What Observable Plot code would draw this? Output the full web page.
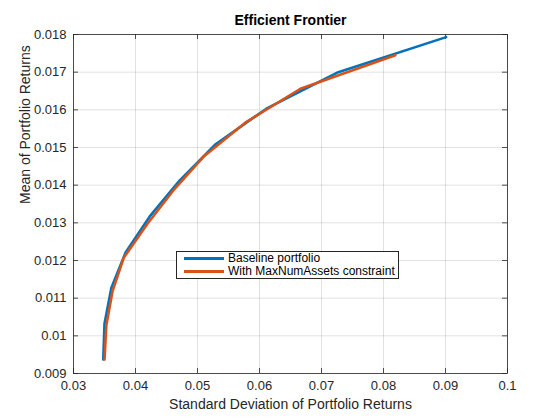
<!DOCTYPE html>
<html>
<head>
<meta charset="utf-8">
<script src="https://cdn.jsdelivr.net/npm/d3@7"></script>
<script src="https://cdn.jsdelivr.net/npm/@observablehq/plot@0.6"></script>
<style>
  body { margin: 0; background: #fff; }
  #wrap { position: relative; width: 560px; height: 420px; font-family: "Liberation Sans", Arial, Helvetica, sans-serif; }
  #legend { position: absolute; left: 176px; top: 251px; width: 221px; height: 26px; border: 1px solid #262626; background: #fff; font-size: 12px; color: #000; }
  .row { position: absolute; left: 7px; height: 13px; line-height: 13px; display: flex; align-items: center; white-space: nowrap; }
  .sw { flex: none; width: 40px; height: 0; border-top: 3px solid; margin-right: 4px; }
</style>
</head>
<body>
<div id="wrap"></div>
<script>
const title = "Efficient Frontier";
const xLabel = "Standard Deviation of Portfolio Returns";
const yLabel = "Mean of Portfolio Returns";
const seriesNames = ["Baseline portfolio", "With MaxNumAssets constraint"];
const seriesColors = ["#0072BD", "#D95319"];

const baselineRisk = [0.0348, 0.0350, 0.0361, 0.0384, 0.0423, 0.0471, 0.0528, 0.0611, 0.0727, 0.0901];
const baselineReturn = [0.00937, 0.01032, 0.01127, 0.01221, 0.01317, 0.01412, 0.01507, 0.01603, 0.01700, 0.01793];
const constrainedRisk = [0.0350, 0.0353, 0.0363, 0.0381, 0.0419, 0.0461, 0.0510, 0.0577, 0.0666, 0.0819];
const constrainedReturn = [0.00937, 0.01028, 0.01119, 0.01207, 0.01297, 0.01386, 0.01476, 0.01566, 0.01656, 0.01745];

const xTicks = [0.03, 0.04, 0.05, 0.06, 0.07, 0.08, 0.09, 0.1];
const yTicks = [0.009, 0.010, 0.011, 0.012, 0.013, 0.014, 0.015, 0.016, 0.017, 0.018];

const baseline = baselineRisk.map((s, i) => ({sd: s, mean: baselineReturn[i]}));
const constrained = constrainedRisk.map((s, i) => ({sd: s, mean: constrainedReturn[i]}));

const W = 560, H = 420, mL = 73, mR = 53, mT = 34, mB = 47;
const pw = W - mL - mR, ph = H - mT - mB;
const fmt = d => String(+d.toFixed(4));
const ink = "#262626";

const chart = Plot.plot({
  width: W, height: H,
  marginLeft: mL, marginRight: mR, marginTop: mT, marginBottom: mB,
  style: {fontFamily: '"Liberation Sans", Arial, Helvetica, sans-serif', fontSize: "13px", color: ink, background: "#fff", overflow: "visible"},
  x: {domain: [0.03, 0.1]},
  y: {domain: [0.009, 0.018]},
  marks: [
    Plot.gridX(xTicks, {stroke: "#000", strokeOpacity: 0.15, strokeWidth: 0.8}),
    Plot.gridY(yTicks, {stroke: "#000", strokeOpacity: 0.15, strokeWidth: 0.8}),
    Plot.ruleX(xTicks, {insetTop: ph - 5, stroke: ink, strokeWidth: 0.8}),
    Plot.ruleX(xTicks, {insetBottom: ph - 5, stroke: ink, strokeWidth: 0.8}),
    Plot.ruleY(yTicks, {insetRight: pw - 5, stroke: ink, strokeWidth: 0.8}),
    Plot.ruleY(yTicks, {insetLeft: pw - 5, stroke: ink, strokeWidth: 0.8}),
    Plot.axisX(xTicks, {tickSize: 0, tickPadding: 7, tickFormat: fmt, label: null, fontSize: 13}),
    Plot.axisY(yTicks, {tickSize: 0, tickPadding: 7, tickFormat: fmt, label: null, fontSize: 13}),
    Plot.line(baseline, {x: "sd", y: "mean", stroke: seriesColors[0], strokeWidth: 2.6}),
    Plot.line(constrained, {x: "sd", y: "mean", stroke: seriesColors[1], strokeWidth: 2.6}),
    Plot.frame({stroke: ink, strokeWidth: 0.8}),
    Plot.text([title], {frameAnchor: "top", lineAnchor: "middle", dy: -14, fontWeight: "bold", fontSize: 14, fill: "#000"}),
    Plot.text([xLabel], {frameAnchor: "bottom", lineAnchor: "middle", dy: 31, fontSize: 14, fill: ink}),
    Plot.text([yLabel], {frameAnchor: "left", dx: -48, rotate: -90, fontSize: 14, fill: ink})
  ]
});
const wrap = document.getElementById("wrap");
wrap.appendChild(chart);

const legend = document.createElement("div");
legend.id = "legend";
seriesNames.forEach((name, i) => {
  const row = document.createElement("div");
  row.className = "row";
  row.style.top = (i === 0 ? 0 : 13) + "px";
  const sw = document.createElement("div");
  sw.className = "sw";
  sw.style.borderTopColor = seriesColors[i];
  const t = document.createElement("span");
  t.textContent = name;
  row.appendChild(sw);
  row.appendChild(t);
  legend.appendChild(row);
});
wrap.appendChild(legend);
</script>
</body>
</html>
